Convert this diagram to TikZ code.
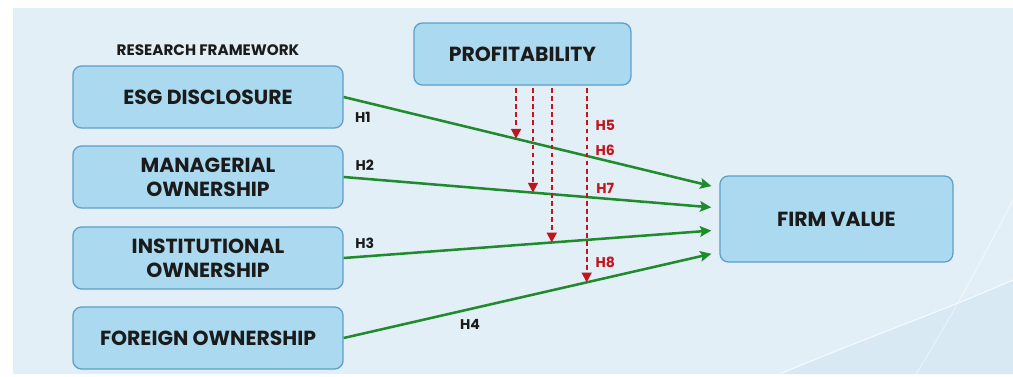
\documentclass[tikz,border=0pt]{standalone}
\usepackage{fontspec}
\setmainfont{Poppins}
\usetikzlibrary{arrows.meta}

\definecolor{bgblue}{HTML}{E3EFF7}
\definecolor{bandblue}{HTML}{D6E8F4}
\definecolor{boxfill}{HTML}{ABD9EF}
\definecolor{boxedge}{HTML}{5C9FCB}
\definecolor{pathgreen}{HTML}{1F8B2C}
\definecolor{modred}{HTML}{C3141E}
\definecolor{inkgray}{HTML}{1B1B1B}

\begin{document}
\begin{tikzpicture}[x=1cm,y=1cm,>=Stealth,text=inkgray,
  var/.style={draw=boxedge,fill=boxfill,line width=0.9pt,rounded corners=6pt,
    minimum width=6.75cm,minimum height=1.55cm,align=center,
    font=\fontsize{14.5}{17}\selectfont\bfseries},
  path/.style={draw=pathgreen,line width=1.8pt,shorten >=0.2cm,
    -{Stealth[length=8pt,width=7.5pt,inset=1.5pt]}},
  moder/.style={draw=modred,line width=1.4pt,dash pattern=on 3.5pt off 2.2pt,
    -{Triangle[length=7pt,width=7pt]}},
  hyp/.style={font=\fontsize{10}{12}\selectfont\bfseries}]
  \useasboundingbox (0,0) rectangle (25.325,9.4);
  \fill[white] (0,0) rectangle (25.325,9.4);
  \fill[bgblue] (0.325,0.05) rectangle (25.325,9.2);
  % soft swooshes, lower right
  \fill[bandblue,opacity=0.8] (19.5,0.05) .. controls (21.5,0.9) and (23.5,1.6) .. (25.325,2.4)
    -- (25.325,0.05) -- cycle;
  \draw[white,line width=0.7pt,opacity=0.8] (19.5,0.05) .. controls (21.5,0.9) and (23.5,1.6) .. (25.325,2.4);
  \draw[white,line width=0.5pt,opacity=0.6] (22.9,0.05) .. controls (23.8,1.5) and (24.6,3.0) .. (25.325,4.4);

  \node[font=\fontsize{10.8}{13}\selectfont\bfseries] (title) at (5.2,8.15) {RESEARCH FRAMEWORK};

  \node[var] (esg) at (5.2,6.975) {ESG DISCLOSURE};
  \node[var] (mgr) at (5.2,4.975) {MANAGERIAL\\OWNERSHIP};
  \node[var] (inst) at (5.2,2.95) {INSTITUTIONAL\\OWNERSHIP};
  \node[var] (frgn) at (5.2,0.95) {FOREIGN OWNERSHIP};
  \node[var,minimum width=5.425cm] (prof) at (13.06,8.05) {PROFITABILITY};
  \node[var,minimum width=5.825cm,minimum height=2.15cm] (firm) at (20.91,3.925) {FIRM VALUE};

  % direct effects, with a point on each line for the moderators
  \foreach \src/\dy/\p/\k in {esg/0.775/0.459/1,mgr/0.275/0.504/2,
                              inst/-0.275/0.554/3,frgn/-0.825/0.647/4}
    \draw[path] (\src.east) -- coordinate[pos=\p] (m\k) ([yshift=\dy cm]firm.west);
  \foreach \k in {1,...,4}
    \draw[moder] ([yshift=-2pt]prof.south -| m\k) -- (m\k);

  \node[hyp] (h1) at (9.07,6.475) {H1};
  \node[hyp] (h2) at (9.12,5.275) {H2};
  \node[hyp] (h3) at (9.12,3.325) {H3};
  \node[hyp] (h4) at (11.75,1.3) {H4};
  \node[hyp,text=modred] (h5) at (15.13,6.275) {H5};
  \node[hyp,text=modred] (h6) at (15.13,5.65) {H6};
  \node[hyp,text=modred] (h7) at (15.13,4.7) {H7};
  \node[hyp,text=modred] (h8) at (15.13,2.85) {H8};
\end{tikzpicture}
\end{document}
